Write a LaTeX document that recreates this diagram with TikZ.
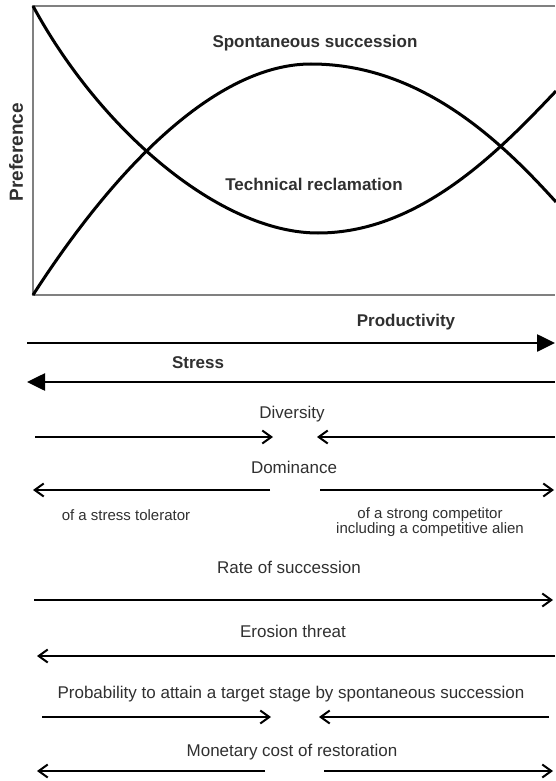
\documentclass[tikz,border=0pt]{standalone}
\usepackage{fontspec}
\setmainfont{Liberation Sans}
\usetikzlibrary{arrows.meta}
\definecolor{txt}{HTML}{303030}
\definecolor{boxc}{HTML}{808080}
\begin{document}
\begin{tikzpicture}[x=1pt,y=-1pt,
  lbl/.style={text=txt,font=\fontsize{17}{19}\selectfont,anchor=center,inner sep=0pt},
  blbl/.style={text=txt,font=\fontsize{17}{19}\selectfont\bfseries,anchor=center,inner sep=0pt},
  slbl/.style={text=txt,font=\fontsize{15}{15}\selectfont,anchor=center,inner sep=0pt,align=center},
  curve/.style={line width=3pt,black},
  thickarr/.style={line width=2.6pt,-{Triangle[length=18pt,width=17pt]}},
  thinarr/.style={line width=2pt,-{Straight Barb[length=9pt,width=13pt]}}]
\useasboundingbox (0,0) rectangle (555,781);
% frame
\draw[boxc,line width=1.5pt] (555,6) -- (33,6) -- (33,295) -- (555,295);
% curves
\draw[curve] (33,295) .. controls (120,160) and (220,64) .. (311,64)
  .. controls (420,64) and (500,140) .. (556,202);
\draw[curve] (33,6) .. controls (100,130) and (220,233) .. (318,233)
  .. controls (420,233) and (500,150) .. (556,91);
\node[blbl] (ss) at (315,43) {Spontaneous succession};
\node[blbl] (tr) at (314,184) {Technical reclamation};
\node[blbl,rotate=90,font=\fontsize{19}{21}\selectfont\bfseries] (pref) at (16,152) {Preference};
% productivity / stress
\node[blbl] (prod) at (406,322) {Productivity};
\coordinate (p1) at (27,343); \coordinate (p2) at (555,343);
\draw[thickarr] (p1) -- (p2);
\node[blbl] (stress) at (198,363) {Stress};
\coordinate (s1) at (555,382); \coordinate (s2) at (27,382);
\draw[thickarr] (s1) -- (s2);
% diversity
\node[lbl] (div) at (292,414) {Diversity};
\coordinate (d1) at (35,437); \coordinate (d2) at (273,437);
\coordinate (d3) at (555,437); \coordinate (d4) at (317,437);
\draw[thinarr] (d1) -- (d2);
\draw[thinarr] (d3) -- (d4);
% dominance
\node[lbl] (dom) at (294,467) {Dominance};
\coordinate (m1) at (270,490); \coordinate (m2) at (33,490);
\coordinate (m3) at (320,490); \coordinate (m4) at (554,490);
\draw[thinarr] (m1) -- (m2);
\draw[thinarr] (m3) -- (m4);
\node[slbl] (tol) at (126,515) {of a stress tolerator};
\node[slbl] (comp) at (430,522) {of a strong competitor\\including a competitive alien};
% rate
\node[lbl] (rate) at (289,567) {Rate of succession};
\coordinate (r1) at (34,600); \coordinate (r2) at (553,600);
\draw[thinarr] (r1) -- (r2);
% erosion
\node[lbl] (ero) at (293,631) {Erosion threat};
\coordinate (e1) at (555,656); \coordinate (e2) at (37,656);
\draw[thinarr] (e1) -- (e2);
% probability
\node[lbl] (prob) at (291,694) {Probability to attain a target stage by spontaneous succession};
\coordinate (q1) at (42,717); \coordinate (q2) at (271,717);
\coordinate (q3) at (549,717); \coordinate (q4) at (319,717);
\draw[thinarr] (q1) -- (q2);
\draw[thinarr] (q3) -- (q4);
% monetary
\node[lbl] (mon) at (292,752) {Monetary cost of restoration};
\coordinate (c1) at (265,771); \coordinate (c2) at (37,771);
\coordinate (c3) at (324,771); \coordinate (c4) at (553,771);
\draw[thinarr] (c1) -- (c2);
\draw[thinarr] (c3) -- (c4);
\end{tikzpicture}
\end{document}
